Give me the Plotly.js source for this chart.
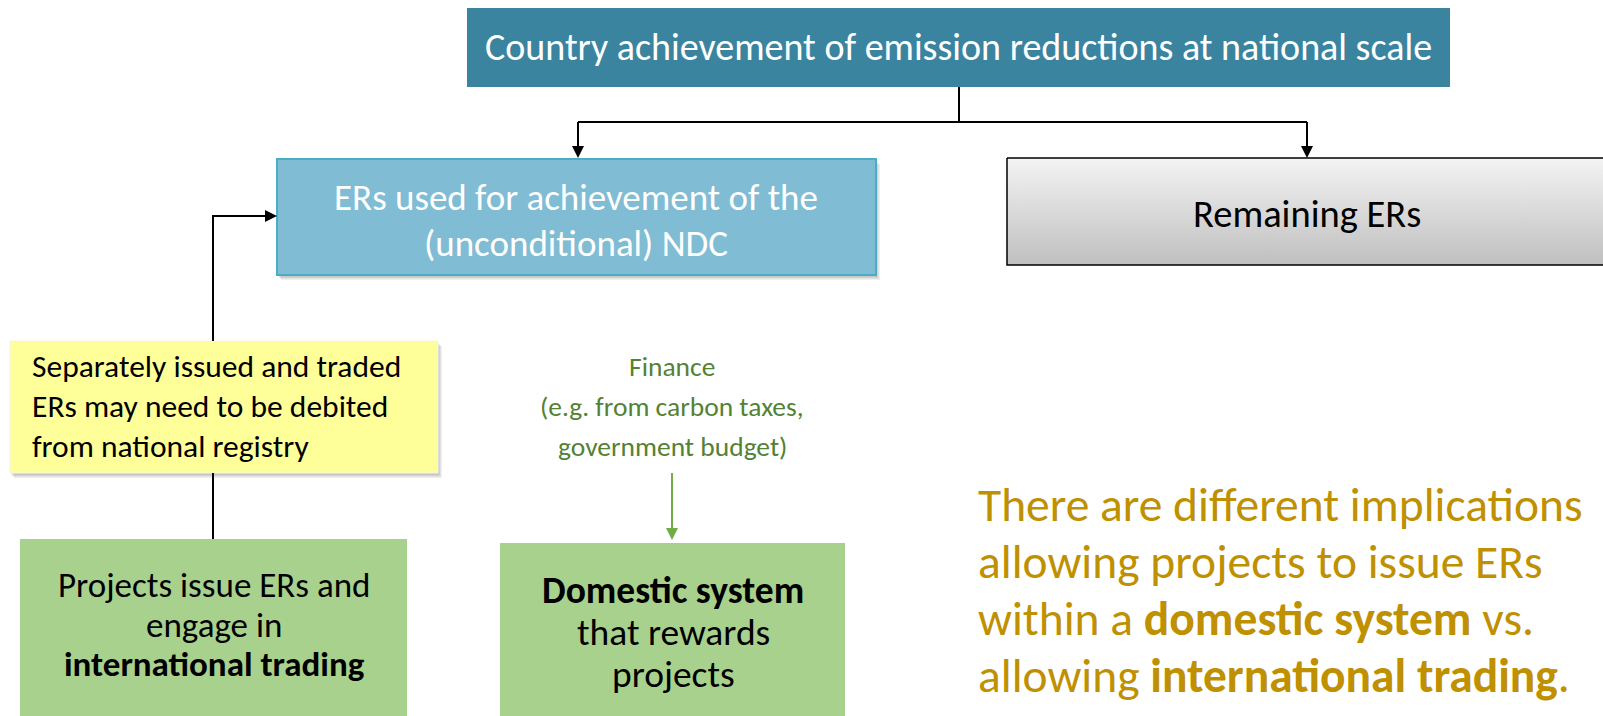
<!DOCTYPE html>
<html>
<head>
<meta charset="utf-8">
<script src="https://cdn.plot.ly/plotly-3.0.1.min.js"></script>
<style>html,body{margin:0;padding:0;background:#fff;}#chart{width:1603px;height:716px;}</style>
</head>
<body>
<div id="chart"></div>
<script>
// ---- content ----
const topLabel = ["Country achievement of emission reductions at national scale"];
const ndcLines = ["ERs used for achievement of the", "(unconditional) NDC"];
const remainingLabel = ["Remaining ERs"];
const noteLines = ["Separately issued and traded", "ERs may need to be debited", "from national registry"];
const financeLines = ["Finance", "(e.g. from carbon taxes,", "government budget)"];
const intlLines = ["Projects issue ERs and", "engage in", "<b>international trading</b>"];
const domesticLines = ["<b>Domestic system</b>", "that rewards", "projects"];
const messageLines = ["There are different implications", "allowing projects to issue ERs",
  "within a <b>domestic system</b> vs.", "allowing <b>international trading</b>."];

const FONT = "Carlito, Lato, 'Open Sans', sans-serif";
const shapes = [];
const annotations = [];

function rect(x0, y0, x1, y1, fill, line, lw) {
  shapes.push({type:'rect', xref:'x', yref:'y', x0, y0, x1, y1, fillcolor:fill,
    line:{color:line || fill, width: lw || 0}, layer:'below'});
}
function shadow(x0, y0, x1, y1) {
  for (let i = 1; i <= 4; i++) {
    shapes.push({type:'rect', xref:'x', yref:'y', x0:x0+i, y0:y0+i+1, x1:x1+i, y1:y1+i+1,
      fillcolor:'rgba(0,0,0,0.06)', line:{width:0}, layer:'below'});
  }
}
function path(d, color, w) {
  shapes.push({type:'path', xref:'x', yref:'y', path:d, line:{color, width:w}, layer:'above'});
}
function arrowHead(x, y, ax, ay, color, size) {
  annotations.push({x, y, ax, ay, xref:'x', yref:'y', axref:'x', ayref:'y', text:'',
    showarrow:true, arrowhead:2, arrowsize:size || 1.1, arrowwidth:2, arrowcolor:color});
}
function text(t, x, y, size, color, align) {
  annotations.push({x, y, xref:'x', yref:'y', text:t, showarrow:false,
    xanchor: align || 'center', yanchor:'middle', align: align || 'center',
    font:{family:FONT, size, color}});
}
function lines(arr, x, y0, step, size, color, align) {
  arr.forEach((t, i) => text(t, x, y0 + i*step, size, color, align));
}

// ---- boxes ----
rect(467, 8, 1450, 87, '#3A84A0');
text(topLabel[0], 958, 47, 38, '#ffffff');

shadow(277, 159, 876, 275);
rect(277, 159, 876, 275, '#80BCD3', '#4BACC6', 2);
lines(ndcLines, 576, 197, 46, 37, '#ffffff');

// yellow note
shadow(10, 341, 438, 473);
rect(10, 341, 438, 473, '#FFFF99', '#F2F2F2', 1);
lines(noteLines, 30, 366, 40, 31.5, '#000000', 'left');

// green boxes
rect(20, 539, 407, 716, '#A9D18E');
lines(intlLines, 214, 585, 39.5, 35, '#000000');
rect(500, 543, 845, 716, '#A9D18E');
lines(domesticLines, 673, 590, 42, 37.5, '#000000');

// finance text
lines(financeLines, 672, 366, 40, 27.5, '#548235');

// message
lines(messageLines, 976, 505, 57, 47.5, '#BF9000', 'left');

// ---- connectors ----
path('M 959 87 L 959 122 M 578 122 L 1307 122 M 578 122 L 578 150 M 1307 122 L 1307 150', '#000000', 2);
arrowHead(578, 158, 578, 140, '#000000', 1.2);
arrowHead(1307, 158, 1307, 140, '#000000', 1.2);
path('M 213 341 L 213 216 L 268 216', '#000000', 2);
arrowHead(277, 216, 255, 216, '#000000', 1.2);
path('M 213 473 L 213 539', '#000000', 2);
path('M 672 473 L 672 530', '#70AD47', 2);
arrowHead(672, 540, 672, 515, '#70AD47', 1.2);

text(remainingLabel[0], 1307, 213, 38.5, '#000000');

const data = [{
  type:'scatter', mode:'lines', x:[1007, 1610, 1610, 1007, 1007], y:[158, 158, 265, 265, 158],
  fill:'toself', line:{color:'#000000', width:1.5}, hoverinfo:'skip',
  fillgradient:{type:'vertical', start:158, stop:265,
    colorscale:[[0,'#F4F4F4'],[1,'#BFBFBF']]}
}];

const layout = {
  width:1603, height:716, margin:{l:0, r:0, t:0, b:0},
  paper_bgcolor:'#ffffff', plot_bgcolor:'#ffffff', showlegend:false,
  xaxis:{range:[0,1603], visible:false, fixedrange:true},
  yaxis:{range:[716,0], visible:false, fixedrange:true},
  shapes, annotations
};
Plotly.newPlot('chart', data, layout, {displayModeBar:false, staticPlot:true});
</script>
</body>
</html>
